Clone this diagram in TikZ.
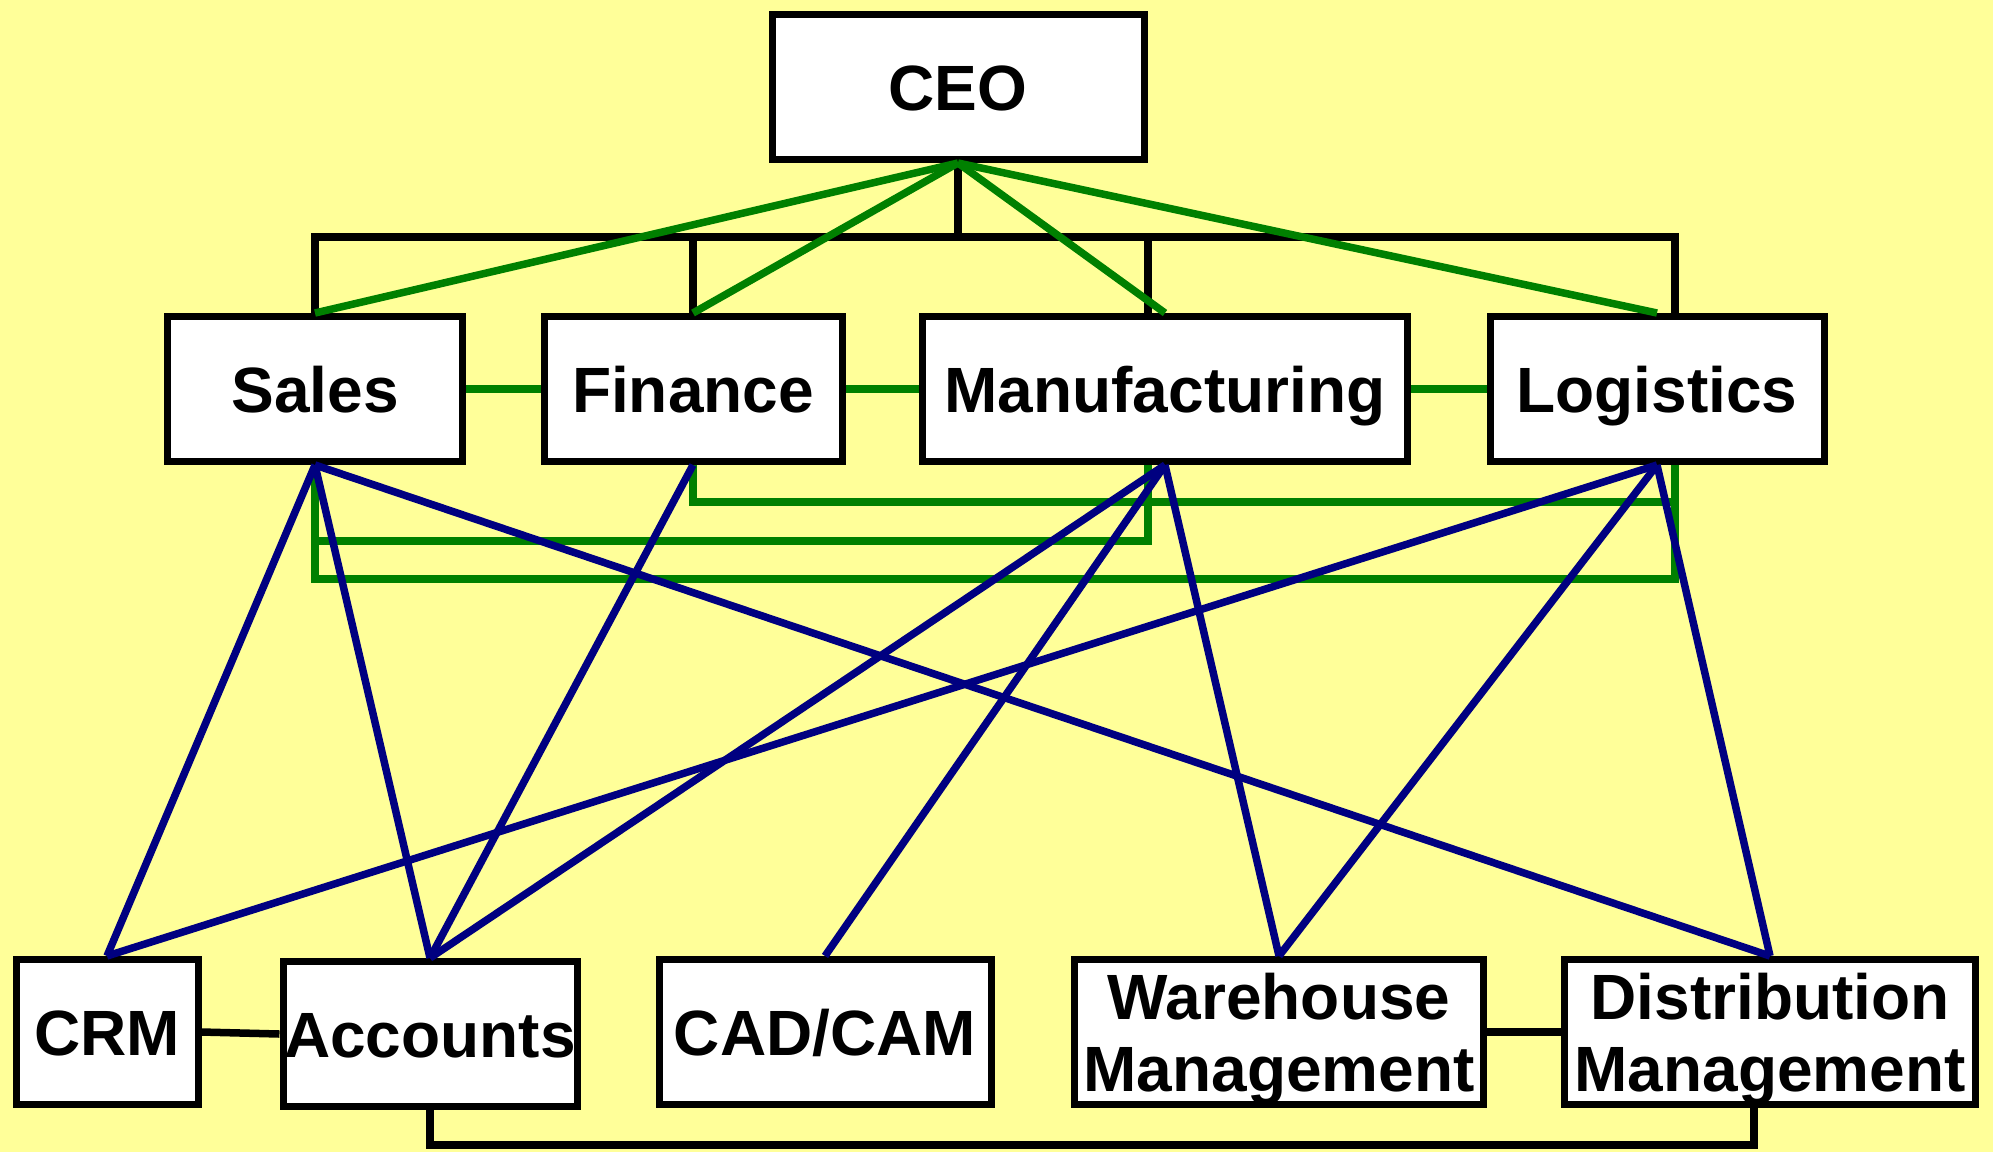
\documentclass[tikz,border=0pt]{standalone}
\usepackage{fontspec}
\setmainfont{Liberation Sans}
\definecolor{bgyellow}{HTML}{FFFF99}
\definecolor{orggreen}{HTML}{008000}
\definecolor{orgnavy}{HTML}{000080}

\begin{document}
\begin{tikzpicture}[x=1pt,y=-1pt,
  box/.style={draw=black,line width=7pt,fill=white,minimum height=145pt,inner sep=0pt,align=center,text height=46pt,text depth=0pt,font=\fontsize{64}{72}\selectfont\bfseries},
  twoline/.style={text height=118pt},
  tree/.style={black,line width=7.5pt},
  peer/.style={orggreen,line width=7.5pt},
  flow/.style={orgnavy,line width=7.5pt}]
\useasboundingbox (0,0) rectangle (1993,1152);
\fill[bgyellow] (0,0) rectangle (1993,1152);

\node[box,minimum width=372pt] (ceo) at (958,87) {CEO};

\node[box,minimum width=295pt] (sal) at (315,389) {Sales};
\node[box,minimum width=298pt] (fin) at (693,389) {Finance};
\node[box,minimum width=485pt] (man) at (1165,389) {Manufacturing};
\node[box,minimum width=334pt] (log) at (1657,389) {Logistics};

\node[box,minimum width=182pt] (crm) at (107,1032) {CRM};
\node[box,minimum width=294pt] (acc) at (430,1034) {Accounts};
\node[box,minimum width=332pt] (cad) at (825,1032) {CAD/CAM};
\node[box,twoline,minimum width=409pt] (war) at (1279,1032) {Warehouse\\Management};
\node[box,twoline,minimum width=411pt] (dis) at (1770,1032) {Distribution\\Management};

\coordinate (bus) at (958,237);
\coordinate (manTop) at ([xshift=-17pt]man.north);
\coordinate (manBot) at ([xshift=-17pt]man.south);
\coordinate (logTop) at ([xshift=18pt]log.north);
\coordinate (logBot) at ([xshift=18pt]log.south);
\coordinate (disBot) at ([xshift=-16pt]dis.south);
\coordinate (lvlA) at (0,502);
\coordinate (lvlB) at (0,541);
\coordinate (lvlC) at (0,579);
\coordinate (lvlD) at (0,1145);

\draw[tree] (ceo.south) -- (bus);
\draw[tree] (sal.north) |- (bus) -| (logTop);
\draw[tree] (fin.north) -- (fin.north |- bus);
\draw[tree] (manTop) -- (manTop |- bus);

\foreach \t in {sal,fin,man,log}
  \draw[peer] (ceo.south) -- (\t.north);
\draw[peer] (sal.east) -- (fin.west);
\draw[peer] (fin.east) -- (man.west);
\draw[peer] (man.east) -- (log.west);
\draw[peer] (fin.south) -- (fin.south |- lvlA) -| (logBot);
\draw[peer] (sal.south) -- (sal.south |- lvlB) -| (manBot);
\draw[peer] (sal.south) -- (sal.south |- lvlC) -| (logBot);

\foreach \a/\b in {sal/crm,sal/acc,sal/dis,fin/acc,man/acc,man/cad,man/war,log/crm,log/war,log/dis}
  \draw[flow] (\a.south) -- (\b.north);

\draw[tree] (crm.east) -- (acc.west);
\draw[tree] (war.east) -- (dis.west);
\draw[tree] (acc.south) -- (acc.south |- lvlD) -| (disBot);
\end{tikzpicture}
\end{document}
